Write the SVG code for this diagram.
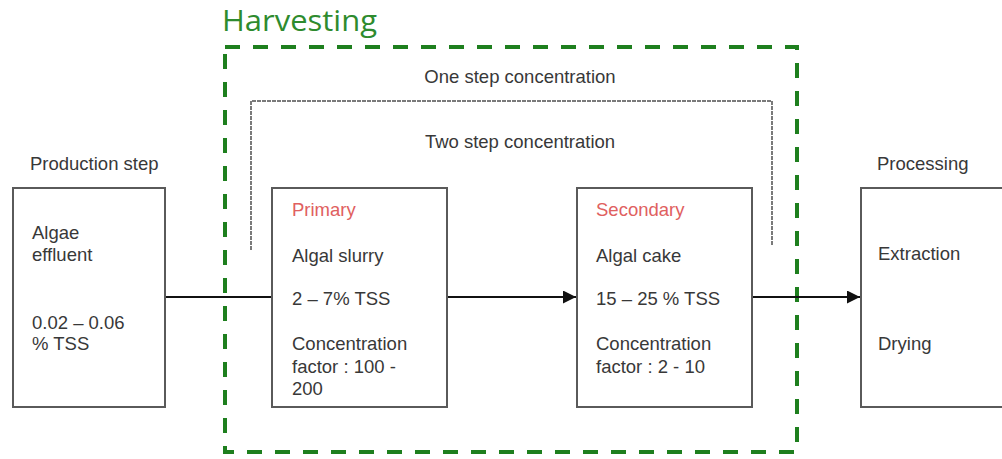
<svg xmlns="http://www.w3.org/2000/svg" width="1002" height="459" viewBox="0 0 1002 459">
<defs>
<style>
.t{font-family:"Liberation Sans",Arial,sans-serif;font-size:18.5px;fill:#383838}
.red{fill:#e06060}
.box{fill:#fff;stroke:#5a5a5a;stroke-width:2}
.con{stroke:#111;stroke-width:2;fill:none}
.brk{stroke:#7a7a7a;stroke-width:2;fill:none;stroke-dasharray:4 1}
</style>
<marker id="ah" viewBox="0 0 10 10" refX="10" refY="5" markerWidth="6.5" markerHeight="6.5" orient="auto" markerUnits="strokeWidth">
<path d="M0,0 L10,5 L0,10 z" fill="#111"/>
</marker>
</defs>
<rect width="1002" height="459" fill="#fff"/>

<g id="harvesting">
<text x="222" y="31" font-family="'Open Sans','Noto Sans',sans-serif" font-size="30" fill="#2e8b2e" textLength="155" lengthAdjust="spacingAndGlyphs">Harvesting</text>
<rect x="225" y="47" width="572" height="405" fill="none" stroke="#1e7f1e" stroke-width="4" stroke-dasharray="15 13"/>
</g>

<g id="bracket">
<text class="t" x="520" y="83" text-anchor="middle">One step concentration</text>
<path class="brk" d="M251,250 V101 H772 V246"/>
<text class="t" x="520" y="148" text-anchor="middle">Two step concentration</text>
</g>

<g id="connectors">
<line class="con" x1="165" y1="297" x2="272" y2="297"/>
<line class="con" x1="447" y1="297" x2="576" y2="297" marker-end="url(#ah)"/>
<line class="con" x1="752" y1="297" x2="860" y2="297" marker-end="url(#ah)"/>
</g>

<g id="production">
<text class="t" x="30" y="170">Production step</text>
<rect class="box" x="13" y="188" width="152" height="219"/>
<text class="t" x="32" y="239">Algae</text>
<text class="t" x="32" y="261">effluent</text>
<text class="t" x="32" y="329">0.02 – 0.06</text>
<text class="t" x="32" y="350">% TSS</text>
</g>

<g id="primary">
<rect class="box" x="272" y="188" width="175" height="219"/>
<text class="t red" x="292" y="216">Primary</text>
<text class="t" x="292" y="262">Algal slurry</text>
<text class="t" x="292" y="305">2 – 7% TSS</text>
<text class="t" x="292" y="350">Concentration</text>
<text class="t" x="292" y="373">factor : 100 -</text>
<text class="t" x="292" y="395">200</text>
</g>

<g id="secondary">
<rect class="box" x="577" y="188" width="175" height="219"/>
<text class="t red" x="596" y="216">Secondary</text>
<text class="t" x="596" y="262">Algal cake</text>
<text class="t" x="596" y="305">15 – 25 % TSS</text>
<text class="t" x="596" y="350">Concentration</text>
<text class="t" x="596" y="373">factor : 2 - 10</text>
</g>

<g id="processing">
<text class="t" x="877" y="170">Processing</text>
<rect class="box" x="861" y="188" width="160" height="219"/>
<text class="t" x="878" y="260">Extraction</text>
<text class="t" x="878" y="350">Drying</text>
</g>
</svg>
